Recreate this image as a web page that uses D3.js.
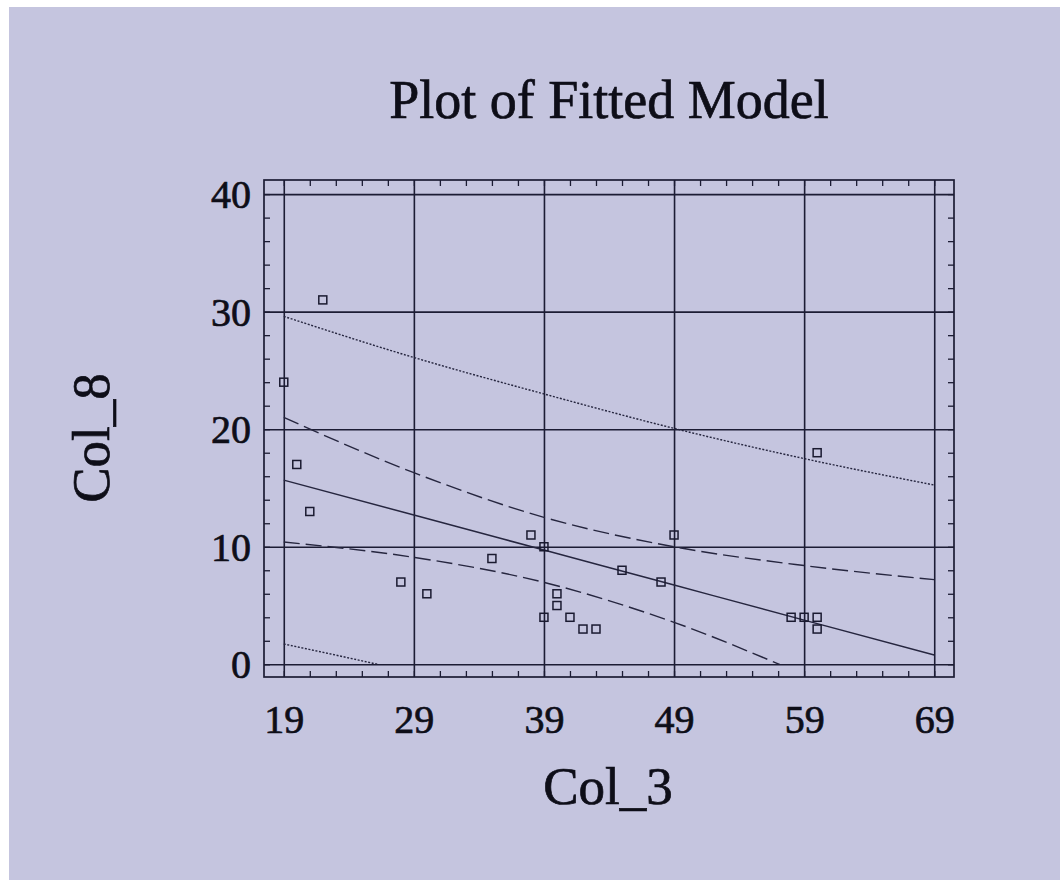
<!DOCTYPE html>
<html>
<head>
<meta charset="utf-8">
<script src="https://cdn.jsdelivr.net/npm/d3@7"></script>
<style>
  html, body { margin: 0; padding: 0; background: #ffffff; }
  svg text { font-family: "Liberation Serif", "Times New Roman", serif; fill: #0e0e18; stroke: #0e0e18; stroke-width: 0.7px; }
</style>
</head>
<body>
<svg id="chart" width="1060" height="882"></svg>
<script>
// Observed points (Col_3, Col_8)
const col3 = [19, 20, 21, 22, 28, 30, 35, 38, 39, 39, 40, 40, 41, 42, 43, 45, 48, 49, 58, 59, 60, 60, 60];
const col8 = [24, 17, 13, 31, 7, 6, 9, 11, 10, 4, 6, 5, 4, 3, 3, 8, 7, 11, 4, 4, 18, 4, 3];

// Fitted line and limits, read at the major grid positions
const bandX = [19, 29, 39, 49, 59, 69];
const fitY = [15.67, 12.7, 9.72, 6.74, 3.76, 0.79];
const confUpper = [21.0, 16.3, 12.5, 10.0, 8.4, 7.2];
const confLower = [10.4, 9.1, 6.97, 3.57, -0.88, -5.6];
const predUpper = [29.6, 26.1, 23.0, 20.07, 17.5, 15.25];
const predLower = [1.73, -0.72, -3.56, -6.6, -10.0, -13.7];

const xTicks = [19, 29, 39, 49, 59, 69];
const yTicks = [0, 10, 20, 30, 40];

const svg = d3.select("#chart");
const ink = "#1c1c34";

// scanned page background
svg.append("rect").attr("x", 9).attr("y", 7).attr("width", 1051).attr("height", 873)
  .attr("fill", "#c5c5df");

const pLeft = 264, pRight = 954, pTop = 180, pBottom = 677;
const x = d3.scaleLinear().domain([17.48, 70.52]).range([pLeft, pRight]);
const y = d3.scaleLinear().domain([-1.08, 41.2]).range([pBottom, pTop]);

// grid lines
svg.append("g").attr("transform", `translate(0,${pBottom})`)
  .call(d3.axisBottom(x).tickValues(xTicks).tickSize(-(pBottom - pTop)).tickFormat(""))
  .call(g => g.select(".domain").remove())
  .call(g => g.selectAll("line").attr("stroke", ink).attr("stroke-width", 1.6));
svg.append("g").attr("transform", `translate(${pLeft},0)`)
  .call(d3.axisLeft(y).tickValues(yTicks).tickSize(-(pRight - pLeft)).tickFormat(""))
  .call(g => g.select(".domain").remove())
  .call(g => g.selectAll("line").attr("stroke", ink).attr("stroke-width", 1.6));

// minor ticks on all four sides, pointing inward
const minorX = d3.range(19, 71, 2);
const minorY = d3.range(0, 41, 2);
function styleMinor(g) {
  g.select(".domain").remove();
  g.selectAll("line").attr("stroke", ink).attr("stroke-width", 1.3);
}
svg.append("g").attr("transform", `translate(0,${pBottom})`)
  .call(d3.axisBottom(x).tickValues(minorX).tickSize(-6).tickFormat("")).call(styleMinor);
svg.append("g").attr("transform", `translate(0,${pTop})`)
  .call(d3.axisTop(x).tickValues(minorX).tickSize(-6).tickFormat("")).call(styleMinor);
svg.append("g").attr("transform", `translate(${pLeft},0)`)
  .call(d3.axisLeft(y).tickValues(minorY).tickSize(-6).tickFormat("")).call(styleMinor);
svg.append("g").attr("transform", `translate(${pRight},0)`)
  .call(d3.axisRight(y).tickValues(minorY).tickSize(-6).tickFormat("")).call(styleMinor);

// frame
svg.append("rect").attr("x", pLeft).attr("y", pTop)
  .attr("width", pRight - pLeft).attr("height", pBottom - pTop)
  .attr("fill", "none").attr("stroke", ink).attr("stroke-width", 1.7);

// tick labels
svg.append("g").attr("transform", `translate(0,${pBottom})`)
  .call(d3.axisBottom(x).tickValues(xTicks).tickSize(0).tickFormat(d3.format("d")))
  .call(g => g.select(".domain").remove())
  .call(g => g.selectAll("text").attr("font-size", 40).attr("fill", "#0e0e18")
    .attr("font-family", "Liberation Serif, serif").attr("dy", "0").attr("y", 56));
svg.append("g").attr("transform", `translate(${pLeft},0)`)
  .call(d3.axisLeft(y).tickValues(yTicks).tickSize(0).tickPadding(13).tickFormat(d3.format("d")))
  .call(g => g.select(".domain").remove())
  .call(g => g.selectAll("text").attr("font-size", 40).attr("fill", "#0e0e18")
    .attr("font-family", "Liberation Serif, serif").attr("dy", "0.34em"));

// clip the curves at zero, as in the original
svg.append("clipPath").attr("id", "clip")
  .append("rect").attr("x", pLeft).attr("y", pTop)
  .attr("width", pRight - pLeft).attr("height", y(0) - pTop);

const line = d3.line().x(d => x(d[0])).y(d => y(d[1])).curve(d3.curveMonotoneX);
const curves = [
  { vals: fitY, dash: null, w: 1.5 },
  { vals: confUpper, dash: "16,6", w: 1.4 },
  { vals: confLower, dash: "16,6", w: 1.4 },
  { vals: predUpper, dash: "2,1.6", w: 1.4 },
  { vals: predLower, dash: "2,1.6", w: 1.4 }
];
const lines = svg.append("g").attr("clip-path", "url(#clip)");
curves.forEach(c => {
  lines.append("path")
    .attr("d", line(bandX.map((v, i) => [v, c.vals[i]])))
    .attr("fill", "none").attr("stroke", "#26263f")
    .attr("stroke-width", c.w)
    .attr("stroke-dasharray", c.dash);
});

// observed points
svg.append("g").selectAll("rect").data(col3.map((v, i) => [v, col8[i]])).join("rect")
  .attr("x", d => x(d[0]) - 4).attr("y", d => y(d[1]) - 4)
  .attr("width", 8).attr("height", 8)
  .attr("fill", "none").attr("stroke", "#1a1a30").attr("stroke-width", 1.5);

// titles
svg.append("text").attr("x", 609).attr("y", 118).attr("text-anchor", "middle")
  .attr("font-size", 54).text("Plot of Fitted Model");
svg.append("text").attr("x", 608).attr("y", 804).attr("text-anchor", "middle")
  .attr("font-size", 53).text("Col_3");
svg.append("text").attr("transform", "translate(109,438) rotate(-90)")
  .attr("text-anchor", "middle").attr("font-size", 53).text("Col_8");
</script>
</body>
</html>
